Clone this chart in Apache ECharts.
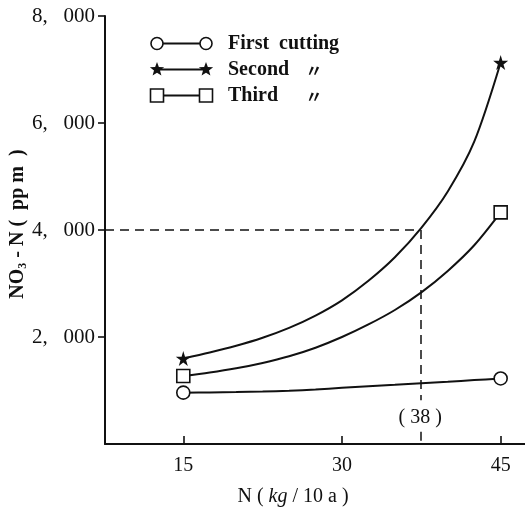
<!DOCTYPE html>
<html>
<head>
<meta charset="utf-8">
<script src="https://cdn.jsdelivr.net/npm/echarts@6/dist/echarts.min.js"></script>
<style>
html,body{margin:0;padding:0;background:#fff;}
#chart{width:525px;height:514px;}
</style>
</head>
<body>
<div id="chart"></div>
<script>
// ---- data ----
const nRates = [15, 17.5, 20, 22.5, 25, 27.5, 30, 32.5, 35, 37.5, 40, 42.5, 45];   // N (kg/10a)
const firstCutting  = [960, 963, 970, 980, 995, 1020, 1050, 1078, 1106, 1135, 1164, 1194, 1225];
const secondCutting = [1600, 1710, 1835, 1985, 2170, 2400, 2685, 3050, 3490, 4040, 4720, 5650, 7130];
const thirdCutting  = [1270, 1335, 1415, 1515, 1640, 1800, 2000, 2235, 2505, 2835, 3235, 3715, 4330];
const xTickValues = [15, 30, 45];
const yTickValues = [2000, 4000, 6000, 8000];
const refX = 37.4;        // dashed reference (labelled 38)
const refY = 4000;
const refLabel = '( 38 )';
const refLabelY = 500;
const seriesNames = ['First  cutting', 'Second', 'Third'];

const FONT = '"Liberation Serif", "DejaVu Serif", serif';
const INK = '#111';
const starPath = 'path://M50,0 L61,35 L98,35 L68,57 L79,91 L50,70 L21,91 L32,57 L2,35 L39,35 Z';
const X_MIN = 7.6, X_MAX = 47.3;

function pairs(vals){ return nRates.map((x,i)=>[x, vals[i]]); }
function ends(vals){ return [[nRates[0], vals[0]], [nRates[nRates.length-1], vals[vals.length-1]]]; }

const chart = echarts.init(document.getElementById('chart'), null, {renderer:'canvas'});

function lineSeries(name, vals){
  return {
    name: name, type:'line', data: pairs(vals), smooth: 0.3,
    symbol:'none', lineStyle:{color:INK, width:2}, z:2, silent:true
  };
}
function markerSeries(name, vals, symbol, size, fill){
  return {
    name: name + ' marker', type:'scatter', data: ends(vals), symbol: symbol, symbolSize: size,
    itemStyle:{color: fill, borderColor: INK, borderWidth: fill === '#fff' ? 1.6 : 0, opacity:1}, z:5, silent:true
  };
}

function starPoints(cx, cy, R){
  const pts=[]; const r=R*0.42;
  for(let i=0;i<10;i++){
    const a = -Math.PI/2 + i*Math.PI/5;
    const rr = i%2===0 ? R : r;
    pts.push([cx+rr*Math.cos(a), cy+rr*Math.sin(a)]);
  }
  return pts;
}

function legendRow(y, kind, label, ditto){
  const els = [];
  els.push({type:'line', shape:{x1:157, y1:y, x2:206, y2:y}, style:{stroke:INK, lineWidth:2}});
  [157, 206].forEach(cx=>{
    if(kind==='circle') els.push({type:'circle', shape:{cx:cx, cy:y, r:6}, style:{fill:'#fff', stroke:INK, lineWidth:1.6}, z:10});
    if(kind==='star') els.push({type:'polygon', shape:{points:starPoints(cx, y, 7.5)}, style:{fill:INK}, z:10});
    if(kind==='rect') els.push({type:'rect', shape:{x:cx-6.5, y:y-6.5, width:13, height:13}, style:{fill:'#fff', stroke:INK, lineWidth:1.6}, z:10});
  });
  els.push({type:'text', x:228, y:y, style:{text:label, font:'bold 20px ' + FONT, fill:INK, verticalAlign:'middle', align:'left'}});
  if(ditto) els.push({type:'text', x:314, y:y+1, style:{text:'〃', font:'bold 17px "Noto Sans CJK JP"', fill:INK, verticalAlign:'middle', align:'center'}});
  return els;
}

const option = {
  backgroundColor:'#fff',
  animation:false,
  grid:{left:105, top:16, width:420, height:428, containLabel:false},
  xAxis:{
    type:'value', min:X_MIN, max:X_MAX,
    axisLine:{show:true, lineStyle:{color:INK, width:2}},
    axisTick:{show:true, inside:true, length:8, customValues:xTickValues, lineStyle:{color:INK, width:1.6}},
    axisLabel:{show:true, customValues:xTickValues, margin:12, fontFamily:FONT, fontSize:20, color:INK},
    splitLine:{show:false}
  },
  yAxis:{
    type:'value', min:0, max:8000,
    axisLine:{show:true, lineStyle:{color:INK, width:2}},
    axisTick:{show:true, inside:false, length:7, customValues:yTickValues, lineStyle:{color:INK, width:1.6}},
    axisLabel:{show:true, customValues:yTickValues, margin:10, fontFamily:FONT, fontSize:21, color:INK,
      formatter:v=>{ const s=String(v); return s.slice(0,s.length-3)+',\u2002 '+s.slice(-3); }},
    splitLine:{show:false}
  },
  series:[
    lineSeries(seriesNames[0], firstCutting),
    Object.assign(lineSeries(seriesNames[1], secondCutting), {
      markLine:{
        silent:true, symbol:'none', label:{show:false},
        lineStyle:{color:INK, width:1.5, type:[9,6]},
        data:[
          [{coord:[X_MIN, refY]}, {coord:[refX, refY]}],
          [{coord:[refX, refY]}, {coord:[refX, 820]}],
          [{coord:[refX, 230]}, {coord:[refX, 0]}]
        ]
      }
    }),
    lineSeries(seriesNames[2], thirdCutting),
    markerSeries(seriesNames[0], firstCutting, 'circle', 13, '#fff'),
    markerSeries(seriesNames[1], secondCutting, starPath, 15, INK),
    markerSeries(seriesNames[2], thirdCutting, 'rect', 13, '#fff'),
    {
      type:'scatter', data:[[refX, refLabelY]], symbolSize:0, silent:true, itemStyle:{opacity:1},
      label:{show:true, position:'inside', formatter:refLabel, fontFamily:FONT, fontSize:20, color:INK, opacity:1}
    }
  ],
  graphic:[
    ...legendRow(43.5, 'circle', 'First  cutting', false),
    ...legendRow(69.5, 'star', 'Second', true),
    ...legendRow(95.5, 'rect', 'Third', true),
    {type:'text', x:18, y:224, rotation:Math.PI/2,
      style:{text:'{a|NO}{s|3}{a| - N (  pp m  )}', align:'center', verticalAlign:'middle',
        rich:{a:{fontFamily:FONT, fontSize:20, fill:INK, fontWeight:'bold', lineHeight:22},
              s:{fontFamily:FONT, fontSize:12, fill:INK, fontWeight:'bold', verticalAlign:'bottom', lineHeight:22}}}},
    {type:'text', x:293, y:497,
      style:{text:'{a|N ( }{i|kg}{a| / 10 a )}', align:'center', verticalAlign:'middle',
        rich:{a:{fontFamily:FONT, fontSize:20, fill:INK}, i:{fontFamily:FONT, fontSize:20, fontStyle:'italic', fill:INK}}}}
  ]
};
chart.setOption(option);
</script>
</body>
</html>
